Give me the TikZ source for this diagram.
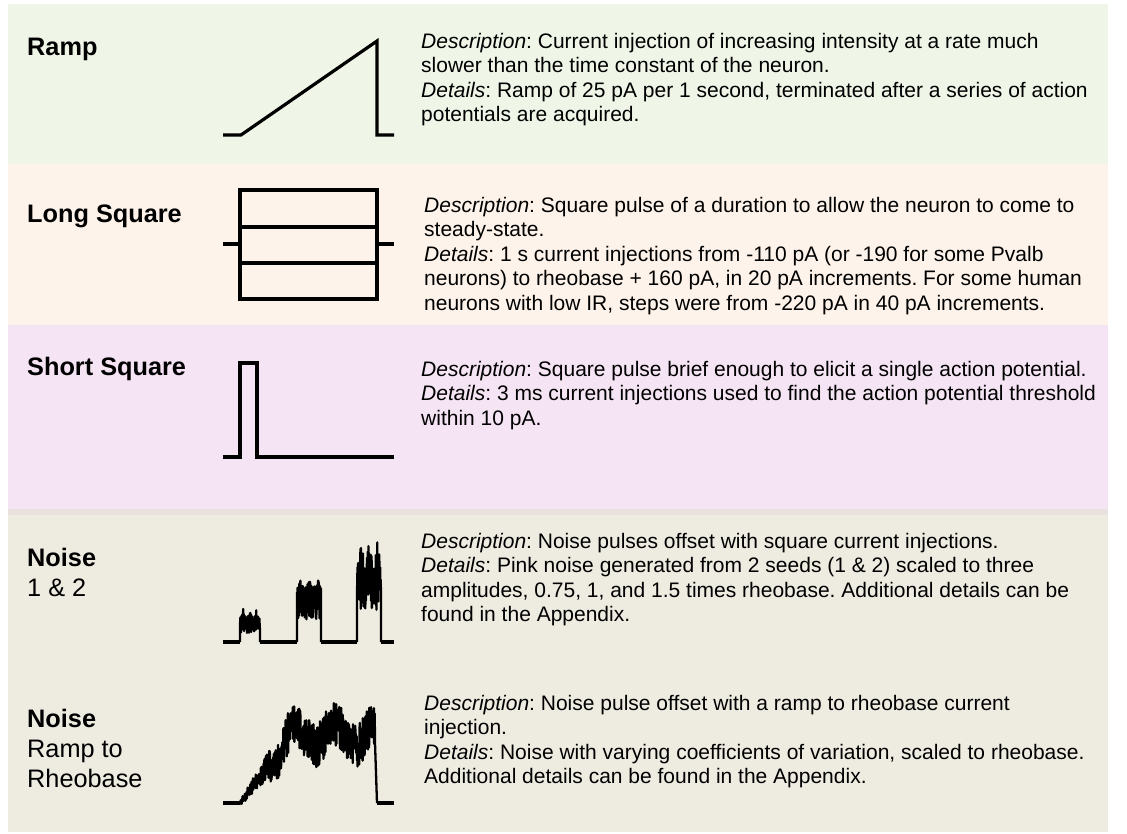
\documentclass[tikz,border=0pt]{standalone}
\usepackage{fontspec}
\setmainfont{Liberation Sans}
\frenchspacing
\definecolor{rampbg}{HTML}{EFF6E8}
\definecolor{longbg}{HTML}{FDF3EA}
\definecolor{shortbg}{HTML}{F5E4F4}
\definecolor{sepbg}{HTML}{E8E1DD}
\definecolor{noisebg}{HTML}{EEEBE1}
\tikzstyle{every node}=[inner sep=0pt]
\tikzstyle{stim}=[anchor=base west,font=\fontsize{25.3}{30}\selectfont]
\tikzstyle{info}=[anchor=base west,font=\fontsize{21}{24.5}\selectfont]
\tikzstyle{wave}=[line width=3.2pt,line join=miter]
\tikzstyle{noisy}=[line width=2.3pt,line join=round]

\begin{document}
\begin{tikzpicture}[x=1pt,y=-1pt]
	\useasboundingbox (0,0) rectangle (1127,833);
	% panels
	\fill[rampbg] (8,4) rectangle (1108,164);
	\fill[longbg] (8,164) rectangle (1108,325);
	\fill[shortbg] (8,325) rectangle (1108,509);
	\fill[sepbg] (8,509) rectangle (1108,515);
	\fill[noisebg] (8,515) rectangle (1108,832);

	% stimulus names
	\node(ramp) at (27,55) [stim]{\textbf{Ramp}};
	\node(long) at (27,222) [stim]{\textbf{Long Square}};
	\node(short) at (27,375) [stim]{\textbf{Short Square}};
	\node(noise) at (27,566) [stim]{\parbox[t]{200pt}{\textbf{Noise}\\1 \& 2}};
	\node(noiser) at (27,727) [stim]{\parbox[t]{200pt}{\textbf{Noise}\\Ramp to\\Rheobase}};

	% descriptions
	\node(rampT) at (421,48) [info]{\parbox[t]{700pt}{\textit{Description}: Current injection of increasing intensity at a rate much\\
		slower than the time constant of the neuron.\\
		\textit{Details}: Ramp of 25 pA per 1 second, terminated after a series of action\\
		potentials are acquired.}};
	\node(longT) at (424,212) [info]{\parbox[t]{700pt}{\textit{Description}: Square pulse of a duration to allow the neuron to come to\\
		steady-state.\\
		\textit{Details}: 1 s current injections from -110 pA (or -190 for some Pvalb\\
		neurons) to rheobase + 160 pA, in 20 pA increments. For some human\\
		neurons with low IR, steps were from -220 pA in 40 pA increments.}};
	\node(shortT) at (421,376) [info]{\parbox[t]{700pt}{\textit{Description}: Square pulse brief enough to elicit a single action potential.\\
		\textit{Details}: 3 ms current injections used to find the action potential threshold\\
		within 10 pA.}};
	\node(noiseT) at (421,548) [info]{\parbox[t]{700pt}{\textit{Description}: Noise pulses offset with square current injections.\\
		\textit{Details}: Pink noise generated from 2 seeds (1 \& 2) scaled to three\\
		amplitudes, 0.75, 1, and 1.5 times rheobase. Additional details can be\\
		found in the Appendix.}};
	\node(noiserT) at (424,710) [info]{\parbox[t]{700pt}{\textit{Description}: Noise pulse offset with a ramp to rheobase current\\
		injection.\\
		\textit{Details}: Noise with varying coefficients of variation, scaled to rheobase.\\
		Additional details can be found in the Appendix.}};

	% waveforms
	\draw[wave] (223,135) -- (241,135) -- (377,41) -- (377,135) -- (394,135);

	\draw[wave] (240,190) rectangle (377,299);
	\draw[wave] (240,227) -- (377,227);
	\draw[wave] (240,263) -- (377,263);
	\draw[wave] (223,244) -- (240,244);
	\draw[wave] (377,244) -- (394,244);

	\draw[wave] (223,457) -- (240,457) -- (240,363) -- (257,363) -- (257,457) -- (394,457);

	\pgfmathsetseed{12}
	\draw[wave] (223,642) -- (240,642);
	\draw[wave] (260,642) -- (297,642);
	\draw[wave] (321,642) -- (357,642);
	\draw[wave] (381,642) -- (394,642);
	\draw[noisy] (240,642) -- plot[domain=240:260,samples=70]
		(\x,{633-(633-(608+9*abs(cos(540*(\x-240)/20))))*rnd}) -- (260,642);
	\draw[noisy] (297,642) -- plot[domain=297:321,samples=85]
		(\x,{622-(622-(574+13*abs(cos(540*(\x-297)/24))))*rnd}) -- (321,642);
	\draw[noisy] (357,642) -- plot[domain=357:381,samples=85]
		(\x,{610-(610-(540+17*abs(cos(540*(\x-357)/24))))*rnd}) -- (381,642);

	\draw[wave] (223,803) -- (240,803);
	\draw[noisy] (240,803) -- plot[domain=240:375,samples=480]
		(\x,{(\x<290 ? 803-(\x-240)*1.36 : 735) - 11*sin((\x-285)*9)*(\x>270) + (\x<290 ? 3+(\x-240)*0.38 : 22)*(2*rnd-1)})
		-- (377,803);
	\draw[wave] (377,803) -- (394,803);
\end{tikzpicture}
\end{document}
